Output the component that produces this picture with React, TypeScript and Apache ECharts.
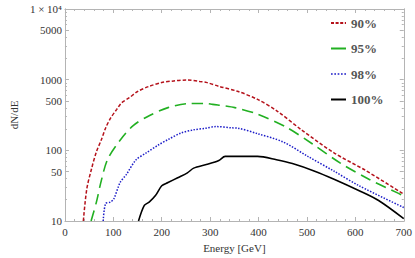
import React, { useEffect, useRef } from "react";
import * as echarts from "echarts";

const redE = [38, 45, 55, 65, 75, 85, 95, 107, 117, 133, 150, 173, 200, 225, 252, 278, 292, 318, 358, 398, 437, 490, 556, 621, 700];
const redV = [10, 28, 55, 95, 140, 215, 290, 380, 470, 555, 680, 800, 910, 960, 990, 945, 915, 805, 680, 525, 365, 192, 92, 52, 24];

const greenE = [54, 65, 75, 88, 114, 141, 174, 213, 253, 292, 305, 331, 351, 398, 457, 510, 569, 628, 687, 700];
const greenV = [10, 18.5, 37, 74, 139, 224, 309, 402, 457, 461, 447, 425, 402, 325, 213, 125, 66, 39, 25, 22.5];

const blueE = [79, 84, 94, 101, 114, 127, 147, 167, 193, 213, 240, 266, 290, 312, 345, 357, 398, 450, 502, 556, 608, 700];
const blueV = [10, 17.6, 18.5, 20.6, 35, 45.7, 73.6, 91, 119, 142, 176, 195, 205, 217, 208, 206, 172, 132, 82, 50.7, 31.5, 15.5];

const blackE = [152, 164, 174, 187, 200, 213, 233, 253, 266, 292, 318, 331, 365, 398, 437, 470, 516, 556, 608, 648, 700];
const blackV = [10, 16.6, 18.5, 22.9, 31.5, 35, 41, 48, 56, 63, 72, 82, 82, 82, 73.6, 65, 50.7, 39, 26.8, 19.5, 10.8];

const seriesNames = ["90%", "95%", "98%", "100%"];
const yLabelValues = [10, 50, 100, 500, 1000, 5000, 10000];
const yMinorValues = [20, 30, 40, 60, 70, 80, 90, 200, 300, 400, 600, 700, 800, 900, 2000, 3000, 4000, 6000, 7000, 8000, 9000];

const zip = (e: number[], v: number[]) => e.map((x, i) => [x, v[i]]);

const FONT = "'Liberation Serif', 'DejaVu Serif', serif";
const FRAME = "#b4b4b4";
const TXT = "#333";

const dashIcon = (dash: number, gap: number, h: number, total = 15) => {
  let d = "";
  for (let x = 0; x < total - 0.01; x += dash + gap) {
    const w = Math.min(dash, total - x);
    d += `M${x},0h${w}v${h}h${-w}z `;
  }
  return "path://" + d.trim();
};

export default function App() {
  const ref = useRef<HTMLDivElement>(null);
  useEffect(() => {
    const chart = echarts.init(ref.current!, null, { renderer: "svg" });
    const baseY = (pos: "left" | "right", ticks: number[], len: number, labels: boolean) => ({
      type: "log",
      logBase: 10,
      min: 10,
      max: 10000,
      position: pos,
      axisLine: { show: true, lineStyle: { color: FRAME, width: 1 } },
      axisTick: { show: true, inside: true, length: len, customValues: ticks, lineStyle: { color: FRAME } },
      axisLabel: labels
        ? {
            show: true,
            customValues: yLabelValues,
            fontFamily: FONT,
            fontSize: 11,
            color: TXT,
            margin: 3,
            formatter: (v: number) => (v >= 10000 ? "1 × 10⁴" : String(Math.round(v))),
          }
        : { show: false },
      splitLine: { show: false },
      minorTick: { show: false },
    });
    const baseX = (pos: "top" | "bottom", labels: boolean) => ({
      type: "value",
      min: 0,
      max: 700,
      interval: 100,
      position: pos,
      axisLine: { show: true, onZero: false, lineStyle: { color: FRAME, width: 1 } },
      axisTick: { show: true, inside: true, length: 4, lineStyle: { color: FRAME } },
      minorTick: { show: true, splitNumber: 5, length: 2, lineStyle: { color: FRAME } },
      axisLabel: labels
        ? { show: true, fontFamily: FONT, fontSize: 11, color: TXT, margin: 5 }
        : { show: false },
      splitLine: { show: false },
      name: labels ? "Energy [GeV]" : "",
      nameLocation: "middle",
      nameGap: 21,
      nameTextStyle: { fontFamily: FONT, fontSize: 11, color: TXT },
    });
    const y0: any = baseY("left", yLabelValues, 4, true);
    y0.name = "dN/dE";
    y0.nameLocation = "middle";
    y0.nameGap = 40;
    y0.nameTextStyle = { fontFamily: FONT, fontSize: 11, color: TXT };
    chart.setOption({
      animation: false,
      textStyle: { fontFamily: FONT },
      grid: { left: 52, right: 8.5, top: 9, bottom: 32, containLabel: false },
      legend: {
        show: true,
        orient: "vertical",
        left: 326,
        top: 11,
        itemWidth: 15,
        itemHeight: 2,
        itemGap: 11.5,
        data: [
          { name: seriesNames[0], icon: dashIcon(3, 1.6, 2) },
          { name: seriesNames[1], icon: dashIcon(15, 0, 2) },
          { name: seriesNames[2], icon: dashIcon(1.6, 1.6, 1.6) },
          { name: seriesNames[3], icon: dashIcon(15, 0, 2) },
        ],
        textStyle: { fontFamily: FONT, fontSize: 13, fontWeight: "bold", color: "#555", lineHeight: 14 },
      },
      xAxis: [baseX("bottom", true), baseX("top", false)],
      yAxis: [
        y0,
        baseY("left", yMinorValues, 2, false),
        baseY("right", yLabelValues, 4, false),
        baseY("right", yMinorValues, 2, false),
      ],
      series: [
        {
          name: seriesNames[0],
          type: "line",
          data: zip(redE, redV),
          showSymbol: false,
          symbol: "none",
          smooth: 0.3,
          clip: true,
          lineStyle: { color: "#b5121b", width: 1.5, type: [3.5, 2] },
          itemStyle: { color: "#b5121b" },
        },
        {
          name: seriesNames[1],
          type: "line",
          data: zip(greenE, greenV),
          showSymbol: false,
          symbol: "none",
          smooth: 0.3,
          clip: true,
          lineStyle: { color: "#22b022", width: 1.6, type: [11, 6] },
          itemStyle: { color: "#22b022" },
        },
        {
          name: seriesNames[2],
          type: "line",
          data: zip(blueE, blueV),
          showSymbol: false,
          symbol: "none",
          smooth: 0.3,
          clip: true,
          lineStyle: { color: "#1c1cc8", width: 1.5, type: [1.5, 1.5] },
          itemStyle: { color: "#1c1cc8" },
        },
        {
          name: seriesNames[3],
          type: "line",
          data: zip(blackE, blackV),
          showSymbol: false,
          symbol: "none",
          smooth: 0.3,
          clip: true,
          lineStyle: { color: "#000", width: 1.6, type: "solid" },
          itemStyle: { color: "#000" },
        },
      ],
    });
    return () => chart.dispose();
  }, []);
  return (
    <div
      ref={ref}
      style={{ position: "absolute", left: 0, top: 0, width: 415, height: 258, background: "#fff" }}
    />
  );
}
